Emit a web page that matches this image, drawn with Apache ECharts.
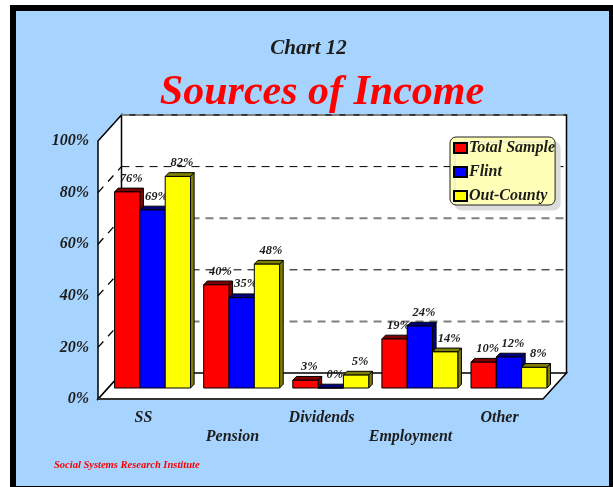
<!DOCTYPE html>
<html>
<head>
<meta charset="utf-8">
<style>
  html, body { margin: 0; padding: 0; background: #fff; }
  #frame { position: absolute; left: 10px; top: 5px; width: 603px; height: 482px; box-sizing: border-box;
           background: #a6d4ff; border-style: solid; border-color: #000; border-width: 6px 4px 1px 6px; }
  #chart { position: absolute; left: 0; top: 0; width: 613px; height: 487px; }
</style>
<script src="https://cdn.jsdelivr.net/npm/echarts@6/dist/echarts.min.js"></script>
</head>
<body>
<div id="frame"></div>
<div id="chart"></div>
<script>
const categories = ['SS', 'Pension', 'Dividends', 'Employment', 'Other'];
const totalSample = [76, 40, 3, 19, 10];
const flint = [69, 35, 0, 24, 12];
const outCounty = [82, 48, 5, 14, 8];
const gridLevels = [20, 40, 60, 80, 100];

const serif = '"Liberation Serif", "Times New Roman", serif';
const ink = '#1c1c1c';
const DEPTH_X = 23.5, DEPTH_Y = 26;      // room depth of the pseudo-3D plot box
const BAR_DX = 3.6, BAR_DY = 3.8;        // depth of each column
const BAR_SHARE = 0.284;                 // column width as a share of a category band

const FRONT = { left: 98, top: 141, width: 445, height: 258 };
const BACK = { left: 121.5, top: 115, width: 445.5, height: 258 };
const BARS = { left: 108, top: 130, width: 445.5, height: 258 };

const chart = echarts.init(document.getElementById('chart'), null, { renderer: 'canvas' });

function column(slot, face, shade) {
  return function (params, api) {
    const band = api.size([1, 0])[0];
    const w = band * BAR_SHARE;
    const value = api.value(1);
    const c = api.coord([api.value(0), value]);
    const base = api.coord([api.value(0), 0]);
    const x0 = c[0] + (slot - 1.5) * w;
    const x1 = x0 + w;
    const top = c[1], bot = base[1];
    const edge = { stroke: '#000', lineWidth: 1 };
    return {
      type: 'group',
      children: [
        { type: 'polygon',
          shape: { points: [[x1, top], [x1 + BAR_DX, top - BAR_DY], [x1 + BAR_DX, bot - BAR_DY], [x1, bot]] },
          style: Object.assign({ fill: shade }, edge) },
        { type: 'polygon',
          shape: { points: [[x0, top], [x0 + BAR_DX, top - BAR_DY], [x1 + BAR_DX, top - BAR_DY], [x1, top]] },
          style: Object.assign({ fill: shade }, edge) },
        { type: 'rect',
          shape: { x: x0, y: top, width: w, height: bot - top },
          style: Object.assign({ fill: face }, edge) },
        { type: 'text',
          style: { x: (x0 + x1) / 2 + 4, y: top - 13.5, text: value + '%', align: 'center', verticalAlign: 'middle',
                   font: 'italic bold 12.5px ' + serif, fill: ink } }
      ]
    };
  };
}

function columnSeries(name, values, slot, face, shade) {
  return {
    name, type: 'custom', xAxisIndex: 2, yAxisIndex: 2, z: 5, clip: false,
    itemStyle: { color: face, borderColor: '#000', borderWidth: 1 },
    encode: { x: 0, y: 1 },
    data: values.map((v, i) => [i, v]),
    renderItem: column(slot, face, shade)
  };
}

const option = {
  animation: false,
  backgroundColor: 'transparent',
  title: [
    { text: 'Chart 12', left: 308.5, top: 38, padding: 0, textAlign: 'center',
      textStyle: { fontFamily: serif, fontStyle: 'italic', fontWeight: 'bold', fontSize: 21, color: ink } },
    { text: 'Sources of Income', left: 322, top: 72, padding: 0, textAlign: 'center',
      textStyle: { fontFamily: serif, fontStyle: 'italic', fontWeight: 'bold', fontSize: 42, color: '#ff0000' } },
    { text: 'Social Systems Research Institute', left: 54, top: 460, padding: 0,
      textStyle: { fontFamily: serif, fontStyle: 'italic', fontWeight: 'bold', fontSize: 10.5, color: '#ff0000' } }
  ],
  grid: [
    Object.assign({ show: false }, FRONT),
    Object.assign({ show: true, backgroundColor: '#fff', borderWidth: 0 }, BACK),
    Object.assign({ show: false }, BARS)
  ],
  xAxis: [
    { type: 'category', gridIndex: 0, data: categories,
      axisLine: { show: false }, axisTick: { show: false },
      axisLabel: { interval: 0, margin: 9, hideOverlap: false, lineHeight: 19, padding: [0, 0, 0, 2],
        fontFamily: serif, fontStyle: 'italic', fontWeight: 'bold', fontSize: 16, color: ink,
        formatter: (v, i) => (i % 2 ? '\n' + v : v) } },
    { type: 'category', gridIndex: 1, data: categories, show: false },
    { type: 'category', gridIndex: 2, data: categories, show: false }
  ],
  yAxis: [
    { type: 'value', gridIndex: 0, min: 0, max: 100, interval: 20,
      axisLine: { show: false }, axisTick: { show: false }, splitLine: { show: false },
      axisLabel: { margin: 9, padding: [3, 0, 0, 0], formatter: '{value}%', fontFamily: serif, fontStyle: 'italic',
        fontWeight: 'bold', fontSize: 16, color: ink } },
    { type: 'value', gridIndex: 1, min: 0, max: 100, interval: 20, show: false, splitLine: { show: false } },
    { type: 'value', gridIndex: 2, min: 0, max: 100, interval: 20, show: false, splitLine: { show: false } }
  ],
  legend: {
    orient: 'vertical', left: 450, top: 137,
    data: ['Total Sample', 'Flint', 'Out-County'],
    icon: 'rect', itemWidth: 13, itemHeight: 10, itemGap: 8,
    padding: [3, 0, 1, 3],
    backgroundColor: '#ffffb8', borderColor: '#222', borderWidth: 1, borderRadius: 6,
    shadowColor: '#dcdcdc', shadowBlur: 0, shadowOffsetX: 5, shadowOffsetY: 5,
    selectedMode: false, z: 20,
    textStyle: { fontFamily: serif, fontStyle: 'italic', fontWeight: 'bold', fontSize: 16, color: ink, padding: [0, 0, 0, -3] }
  },
  series: [
    { // floor, side wall and outline of the box
      type: 'custom', xAxisIndex: 0, yAxisIndex: 0, z: 2, clip: false, silent: true,
      data: [[0, 0]],
      renderItem(params) {
        const g = params.coordSys;
        const l = g.x, r = g.x + g.width, t = g.y, b = g.y + g.height;
        const line = { stroke: '#000', lineWidth: 1.5, fill: 'none' };
        return { type: 'group', children: [
          { type: 'polygon', shape: { points: [[l, b], [r, b], [r + DEPTH_X, b - DEPTH_Y], [l + DEPTH_X, b - DEPTH_Y]] },
            style: { fill: '#fff', stroke: '#000', lineWidth: 1.5 } },
          { type: 'polygon', shape: { points: [[l, t], [l + DEPTH_X, t - DEPTH_Y], [l + DEPTH_X, b - DEPTH_Y], [l, b]] },
            style: { fill: '#fff', stroke: '#000', lineWidth: 1.5 } },
          { type: 'polyline', shape: { points: [[l + DEPTH_X, t - DEPTH_Y], [r + DEPTH_X, t - DEPTH_Y], [r + DEPTH_X, b - DEPTH_Y]] },
            style: line },
          { type: 'line', shape: { x1: l, y1: b, x2: r, y2: b }, style: { stroke: '#333', lineWidth: 2 } }
        ] };
      }
    },
    { // dashes running back along the side wall
      type: 'custom', xAxisIndex: 0, yAxisIndex: 0, z: 3, clip: false, silent: true,
      data: gridLevels.filter(v => v < 100).map(v => [0, v]),
      renderItem(params, api) {
        const y = api.coord([0, api.value(1)])[1];
        const l = params.coordSys.x;
        return { type: 'line', shape: { x1: l, y1: y, x2: l + DEPTH_X, y2: y - DEPTH_Y },
          style: { stroke: '#000', lineWidth: 1.3, lineDash: [8, 7] } };
      }
    },
    { // dashed gridlines on the back wall
      type: 'custom', xAxisIndex: 1, yAxisIndex: 1, z: 3, clip: false, silent: true,
      data: gridLevels.map(v => [0, v]),
      renderItem(params, api) {
        const y = api.coord([0, api.value(1)])[1];
        const g = params.coordSys;
        const thin = api.value(1) === 40 || api.value(1) === 80;
        return { type: 'line', shape: { x1: g.x, y1: y, x2: g.x + g.width, y2: y },
          style: { stroke: thin ? '#000' : '#808080', lineWidth: thin ? 1 : 2, lineDash: [8, 6] } };
      }
    },
    columnSeries('Total Sample', totalSample, 0, '#ff0000', '#800000'),
    columnSeries('Flint', flint, 1, '#0000ff', '#000080'),
    columnSeries('Out-County', outCounty, 2, '#ffff00', '#808000')
  ]
};

chart.setOption(option);
</script>
</body>
</html>
